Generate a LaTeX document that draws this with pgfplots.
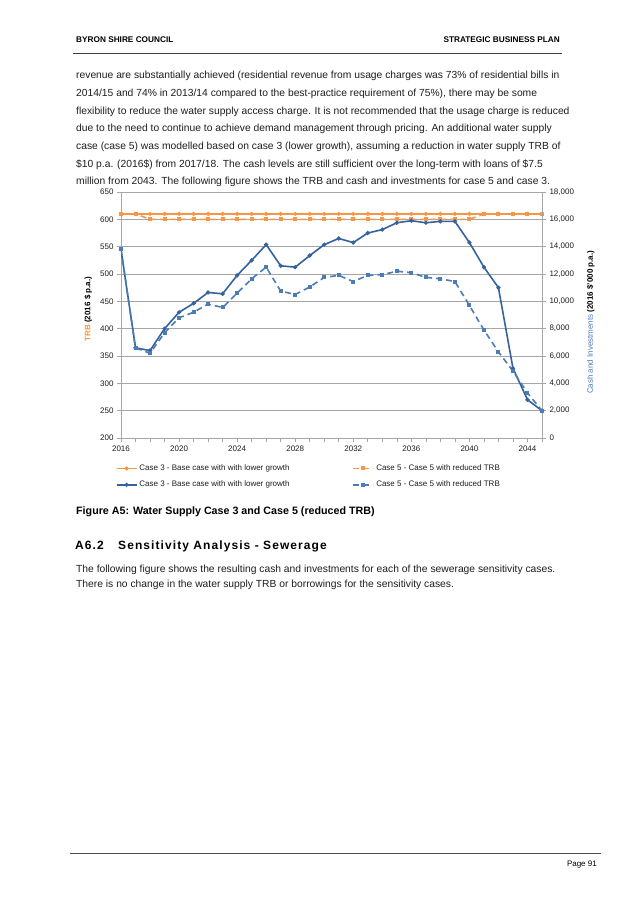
\documentclass[border=0pt]{standalone}
\usepackage{fontspec}
\setmainfont{Liberation Sans}
\newfontfamily\headfont[LetterSpace=9]{Liberation Sans}
\usepackage{pgfplots}
\usepackage{pgfplotstable}
\pgfplotsset{compat=1.18}

\definecolor{trbor}{HTML}{F79646}
\definecolor{cashbl}{HTML}{36629E}
\definecolor{cashbl2}{HTML}{4A7CB8}
\definecolor{gridgr}{HTML}{A6A6A6}
\definecolor{bodytxt}{HTML}{1E1E1E}

% TRB (left axis, $ p.a.) and cash & investments (right axis, $'000)
\pgfplotstableread{
year trb3 trb5 cash3 cash5
2016 610 610 13800 13800
2017 610 610 6600 6600
2018 610 600 6400 6200
2019 610 600 8000 7700
2020 610 600 9200 8800
2021 610 600 9850 9200
2022 610 600 10650 9800
2023 610 600 10550 9550
2024 610 600 11900 10600
2025 610 600 13000 11650
2026 610 600 14150 12500
2027 610 600 12600 10750
2028 610 600 12500 10500
2029 610 600 13350 11050
2030 610 600 14150 11750
2031 610 600 14600 11900
2032 610 600 14300 11450
2033 610 600 15000 11900
2034 610 600 15250 11950
2035 610 600 15750 12200
2036 610 600 15900 12100
2037 610 600 15750 11750
2038 610 600 15850 11650
2039 610 600 15850 11450
2040 610 600 14300 9700
2041 610 610 12500 7900
2042 610 610 11000 6300
2043 610 610 5100 4900
2044 610 610 2800 3300
2045 610 610 2000 2000
}\datatab

\pgfplotsset{
  pagechart/.style={
    at={(121pt,-438pt)}, anchor=south west,
    scale only axis, width=421pt, height=246pt,
    xmin=2016, xmax=2045,
    tick align=outside,
    major tick length=4pt, minor tick length=4pt,
    tick style={gridgr, line width=0.6pt},
    axis line style={gridgr, line width=0.8pt},
    ticklabel style={font=\fontsize{8}{9.6}\selectfont, text=bodytxt},
    /pgf/number format/assume math mode=true,
    label style={font=\fontsize{8}{9.6}\selectfont\bfseries},
  },
}

\begin{document}
\begin{tikzpicture}[x=1pt,y=1pt]
\useasboundingbox[fill=white] (0,0) rectangle (642,-908);

% page header
\node[anchor=base west,inner sep=0,font=\fontsize{8.25}{10}\selectfont\bfseries] at (76,-42) {BYRON SHIRE COUNCIL};
\node[anchor=base east,inner sep=0,font=\fontsize{8.25}{10}\selectfont\bfseries] at (560,-42) {STRATEGIC BUSINESS PLAN};
\draw[line width=1pt,black!75] (73,-53) -- (562,-53);

% body text
\begin{scope}[every node/.style={anchor=base west,inner sep=0,text=bodytxt,font=\fontsize{10.3}{12}\selectfont}]
\node at (76,-78.5) {revenue are substantially achieved (residential revenue from usage charges was 73\% of residential bills in};
\node at (76,-96) {2014/15 and 74\% in 2013/14 compared to the best-practice requirement of 75\%), there may be some};
\node at (76,-114) {flexibility to reduce the water supply access charge. It is not recommended that the usage charge is reduced};
\node at (76,-131.5) {due to the need to continue to achieve demand management through pricing. An additional water supply};
\node at (76,-149) {case (case 5) was modelled based on case 3 (lower growth), assuming a reduction in water supply TRB of};
\node at (76,-167) {\$10 p.a. (2016\$) from 2017/18. The cash levels are still sufficient over the long-term with loans of \$7.5};
\node at (76,-184.5) {million from 2043. The following figure shows the TRB and cash and investments for case 5 and case 3.};
\node at (76,-572.5) {The following figure shows the resulting cash and investments for each of the sewerage sensitivity cases.};
\node at (76,-587) {There is no change in the water supply TRB or borrowings for the sensitivity cases.};
\end{scope}

% caption and section heading
\node[anchor=base west,inner sep=0,font=\fontsize{10.7}{12}\selectfont\bfseries] at (76,-514) {Figure A5: Water Supply Case 3 and Case 5 (reduced TRB)};
\node[anchor=base west,inner sep=0,font=\fontsize{12}{15}\headfont\bfseries] at (75,-549) {A6.2};
\node[anchor=base west,inner sep=0,font=\fontsize{12}{15}\headfont\bfseries] at (118,-549) {Sensitivity Analysis - Sewerage};

% footer
\draw[line width=1pt,black!70] (70,-853) -- (601,-853);
\node[anchor=base east,inner sep=0,font=\fontsize{8}{10}\selectfont] at (597,-866) {Page 91};

% left axis: TRB
\begin{axis}[pagechart,
  ymin=200, ymax=650, ytick={200,250,...,650},
  xtick={2016,2020,...,2044}, minor xtick={2016,...,2045},
  xticklabel style={/pgf/number format/1000 sep={}},
  axis x line*=bottom, axis y line*=left,
  ymajorgrids, major grid style={gridgr, line width=0.8pt},
  ylabel={\textcolor{trbor}{TRB} (2016 \$ p.a.)},
  ylabel style={at={(axis description cs:-0.078,0.524)}, anchor=center},
]
\addplot[trbor, line width=1.6pt, dash pattern=on 6pt off 4pt, mark=square*, mark size=1.2pt, mark options={solid}] table[x=year,y=trb5] {\datatab};
\addplot[trbor, line width=1.6pt, mark=*, mark size=1.2pt] table[x=year,y=trb3] {\datatab};
\end{axis}

% right axis: cash and investments
\begin{axis}[pagechart,
  ymin=0, ymax=18000, ytick={0,2000,...,18000},
  scaled y ticks=false,
  axis y line*=right, axis x line=none,
  ylabel={\textcolor{cashbl2}{\mdseries Cash and Investments} (2016 \$'000 p.a.)},
  ylabel style={at={(axis description cs:1.116,0.47)}, anchor=center},
  legend columns=2,
  legend style={draw=none, fill=none, at={(axis description cs:-0.02,-0.092)}, anchor=north west,
    font=\fontsize{8}{9.6}\selectfont, text=bodytxt, row sep=5pt,
    /tikz/every even column/.append style={column sep=61pt}},
  legend cell align=left,
  legend image code/.code={\draw[mark repeat=2,mark phase=2] plot coordinates {(0pt,0pt) (10pt,0pt) (20pt,0pt)};},
]
\addlegendimage{trbor, line width=1.6pt, mark=*, mark size=1.2pt}
\addlegendentry{Case 3 - Base case with with lower growth}
\addlegendimage{trbor, line width=1.6pt, dash pattern=on 6pt off 4pt, mark=square*, mark size=1.2pt, mark options={solid}}
\addlegendentry{Case 5 - Case 5 with reduced TRB}
\addplot[cashbl, line width=1.6pt, mark=*, mark size=1.2pt] table[x=year,y=cash3] {\datatab};
\addlegendentry{Case 3 - Base case with with lower growth}
\addplot[cashbl2, line width=1.6pt, dash pattern=on 6pt off 4pt, mark=square*, mark size=1.2pt, mark options={solid}] table[x=year,y=cash5] {\datatab};
\addlegendentry{Case 5 - Case 5 with reduced TRB}
\end{axis}
\end{tikzpicture}
\end{document}
